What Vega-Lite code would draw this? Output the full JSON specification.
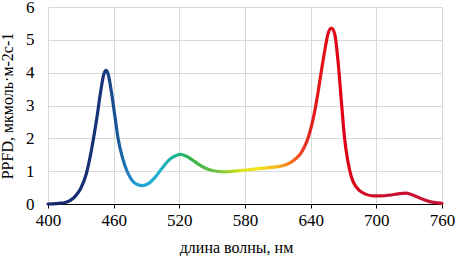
{
  "$schema": "https://vega.github.io/schema/vega-lite/v6.json",
  "width": 394,
  "height": 197,
  "autosize": "none",
  "padding": {"left": 48, "top": 7, "right": 13, "bottom": 52},
  "background": "white",
  "config": {
    "view": {"stroke": null},
    "font": "Liberation Serif",
    "axis": {"labelFont": "Liberation Serif", "titleFont": "Liberation Serif", "labelColor": "#000", "titleColor": "#000", "labelFontSize": 17, "titleFontSize": 16, "titleFontWeight": "normal", "gridColor": "#d9d9d9", "gridWidth": 1}
  },
  "data": {"values": [
    {"wl": 400, "ppfd": 0}, {"wl": 405, "ppfd": 0.005}, {"wl": 410, "ppfd": 0.02}, {"wl": 415, "ppfd": 0.04},
    {"wl": 420, "ppfd": 0.1}, {"wl": 425, "ppfd": 0.24}, {"wl": 430, "ppfd": 0.48}, {"wl": 435, "ppfd": 0.92},
    {"wl": 440, "ppfd": 1.7}, {"wl": 445, "ppfd": 2.7}, {"wl": 448, "ppfd": 3.4}, {"wl": 451, "ppfd": 3.95},
    {"wl": 453, "ppfd": 4.07}, {"wl": 455, "ppfd": 3.95}, {"wl": 458, "ppfd": 3.4}, {"wl": 461, "ppfd": 2.7},
    {"wl": 464, "ppfd": 2.0}, {"wl": 468, "ppfd": 1.42}, {"wl": 472, "ppfd": 1.02}, {"wl": 476, "ppfd": 0.76},
    {"wl": 480, "ppfd": 0.62}, {"wl": 486, "ppfd": 0.56}, {"wl": 492, "ppfd": 0.63}, {"wl": 498, "ppfd": 0.82},
    {"wl": 504, "ppfd": 1.08}, {"wl": 510, "ppfd": 1.32}, {"wl": 516, "ppfd": 1.46}, {"wl": 521, "ppfd": 1.51},
    {"wl": 526, "ppfd": 1.46}, {"wl": 532, "ppfd": 1.34}, {"wl": 538, "ppfd": 1.2}, {"wl": 544, "ppfd": 1.09},
    {"wl": 550, "ppfd": 1.02}, {"wl": 556, "ppfd": 0.99}, {"wl": 562, "ppfd": 0.98}, {"wl": 570, "ppfd": 1.0},
    {"wl": 580, "ppfd": 1.03}, {"wl": 590, "ppfd": 1.07}, {"wl": 600, "ppfd": 1.1}, {"wl": 610, "ppfd": 1.14},
    {"wl": 616, "ppfd": 1.18}, {"wl": 621, "ppfd": 1.25}, {"wl": 626, "ppfd": 1.37}, {"wl": 630, "ppfd": 1.5},
    {"wl": 634, "ppfd": 1.72}, {"wl": 638, "ppfd": 2.05}, {"wl": 642, "ppfd": 2.55}, {"wl": 646, "ppfd": 3.25},
    {"wl": 650, "ppfd": 4.1}, {"wl": 653, "ppfd": 4.7}, {"wl": 656, "ppfd": 5.2}, {"wl": 659, "ppfd": 5.36},
    {"wl": 662, "ppfd": 5.17}, {"wl": 665, "ppfd": 4.35}, {"wl": 668, "ppfd": 3.15}, {"wl": 671, "ppfd": 2.0},
    {"wl": 674, "ppfd": 1.3}, {"wl": 677, "ppfd": 0.85}, {"wl": 680, "ppfd": 0.6}, {"wl": 685, "ppfd": 0.4},
    {"wl": 690, "ppfd": 0.3}, {"wl": 697, "ppfd": 0.25}, {"wl": 705, "ppfd": 0.25}, {"wl": 712, "ppfd": 0.27},
    {"wl": 720, "ppfd": 0.31}, {"wl": 727, "ppfd": 0.33}, {"wl": 732, "ppfd": 0.29}, {"wl": 737, "ppfd": 0.22},
    {"wl": 742, "ppfd": 0.15}, {"wl": 748, "ppfd": 0.08}, {"wl": 754, "ppfd": 0.04}, {"wl": 760, "ppfd": 0.02}
  ]},
  "mark": {
    "type": "line",
    "interpolate": "monotone",
    "strokeWidth": 3.2,
    "strokeCap": "round",
    "stroke": {
      "gradient": "linear", "x1": 0, "y1": 0, "x2": 1, "y2": 0,
      "stops": [
        {"offset": 0, "color": "#15286a"},
        {"offset": 0.14, "color": "#17347a"},
        {"offset": 0.18, "color": "#1a5e9e"},
        {"offset": 0.225, "color": "#249fd6"},
        {"offset": 0.28, "color": "#1fb2d0"},
        {"offset": 0.32, "color": "#1cb49a"},
        {"offset": 0.36, "color": "#2fb34a"},
        {"offset": 0.43, "color": "#72c13f"},
        {"offset": 0.49, "color": "#d9e21c"},
        {"offset": 0.53, "color": "#f3e81a"},
        {"offset": 0.585, "color": "#f8ae1c"},
        {"offset": 0.625, "color": "#f2621f"},
        {"offset": 0.665, "color": "#e41f1d"},
        {"offset": 0.75, "color": "#de0015"},
        {"offset": 0.84, "color": "#c8102e"},
        {"offset": 1, "color": "#c81436"}
      ]
    }
  },
  "encoding": {
    "x": {
      "field": "wl", "type": "quantitative",
      "scale": {"domain": [400, 760], "nice": false, "zero": false},
      "axis": {"title": "длина волны, нм", "values": [400, 460, 520, 580, 640, 700, 760], "domainColor": "#000", "domainWidth": 1.2, "tickColor": "#000", "tickSize": 4, "labelPadding": 4, "titlePadding": 11, "titleX": 188, "labelFlush": false}
    },
    "y": {
      "field": "ppfd", "type": "quantitative",
      "scale": {"domain": [0, 6], "nice": false},
      "axis": {"title": "PPFD, мкмоль·м-2с-1", "values": [0, 1, 2, 3, 4, 5, 6], "domain": false, "ticks": false, "labelPadding": 14, "titlePadding": 10}
    }
  }
}
